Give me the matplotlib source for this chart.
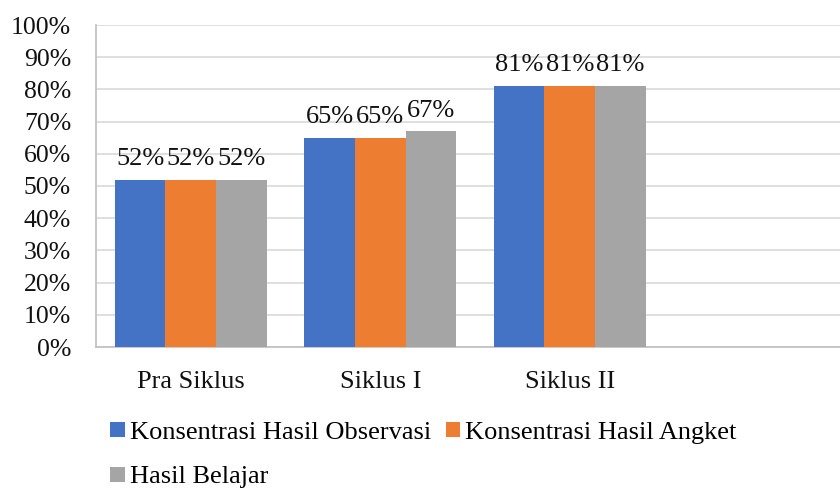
import numpy as np
import matplotlib
matplotlib.use('Agg')
import matplotlib.pyplot as plt
from matplotlib.ticker import PercentFormatter

# data
categories = ['Pra Siklus', 'Siklus I', 'Siklus II', '']
series_names = ['Konsentrasi Hasil Observasi', 'Konsentrasi Hasil Angket', 'Hasil Belajar']
observasi = [52, 65, 81]
angket = [52, 65, 81]
belajar = [52, 67, 81]
colors = ['#4472C4', '#ED7D31', '#A5A5A5']

plt.rcParams['font.family'] = ['Liberation Serif', 'DejaVu Serif']
fs = 19

fig = plt.figure(figsize=(8.4, 4.88), dpi=100)
ax = fig.add_axes([96 / 840, 1 - 347 / 488, 758 / 840, 322 / 488])

x = np.arange(len(observasi))
w = 0.8 / 3
bars = []
for i, (vals, name) in enumerate(zip([observasi, angket, belajar], series_names)):
    b = ax.bar(x + (i - 1) * w, vals, width=w, color=colors[i], label=name, zorder=3)
    bars.append(b)
    for rect, v in zip(b, vals):
        ax.annotate(f'{v}%', (rect.get_x() + rect.get_width() / 2, v),
                    xytext=(0, 7), textcoords='offset points',
                    ha='center', va='bottom', fontsize=fs, color='#111111')

ax.set_xlim(-0.5, 3.5)
ax.set_ylim(0, 100)
ax.set_yticks(np.arange(0, 101, 10))
ax.yaxis.set_major_formatter(PercentFormatter(decimals=0))
ax.set_xticks(np.arange(len(categories)))
ax.set_xticklabels(categories)
ax.tick_params(axis='y', length=0, pad=18, labelsize=18.5, labelcolor='#111111')
ax.tick_params(axis='x', length=0, pad=17, labelsize=fs, labelcolor='#111111')
ax.grid(axis='y', color='#D9D9D9', linewidth=1.2, zorder=0)
for s in ['top', 'right']:
    ax.spines[s].set_visible(False)
ax.spines['left'].set_color('#BFBFBF')
ax.spines['bottom'].set_color('#BFBFBF')
ax.spines['left'].set_linewidth(1.2)
ax.spines['bottom'].set_linewidth(1.2)

# legend: row-major order with 2 columns
h = [bars[0], bars[2], bars[1]]
l = [series_names[0], series_names[2], series_names[1]]
fig.legend(h, l, ncol=2, loc='upper left', bbox_to_anchor=(110 / 840, 1 - 422 / 488),
           frameon=False, fontsize=fs, handlelength=0.55, handleheight=0.5,
           handletextpad=0.2, columnspacing=0.55, labelspacing=0.85,
           borderpad=0, borderaxespad=0)

fig.savefig('out.png', dpi=100)
